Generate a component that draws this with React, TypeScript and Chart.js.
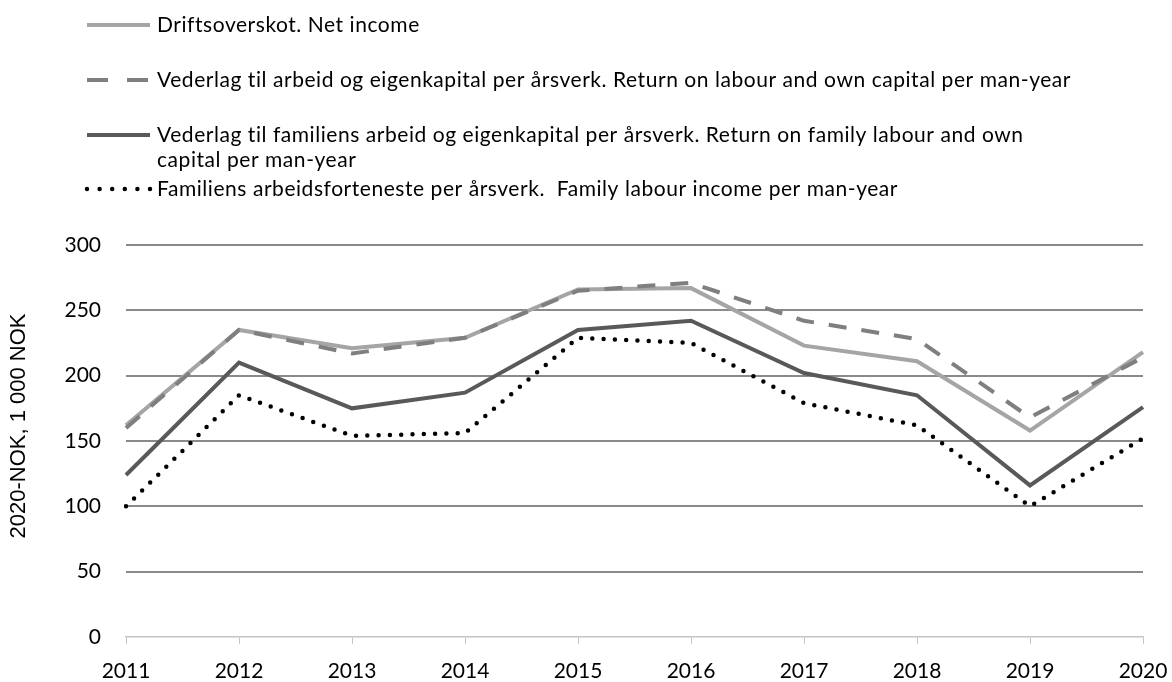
import React, { useEffect, useRef } from "react";
import { Chart, registerables } from "chart.js";

Chart.register(...registerables);

const years = ["2011", "2012", "2013", "2014", "2015", "2016", "2017", "2018", "2019", "2020"];
const netIncome = [162, 235, 221, 229, 266, 267, 223, 211, 158, 218];
const returnLabourCapital = [160, 235, 217, 229, 265, 271, 242, 228, 168, 214];
const returnFamilyLabourCapital = [124, 210, 175, 187, 235, 242, 202, 185, 116, 176];
const familyLabourIncome = [100, 185, 154, 156, 229, 225, 179, 162, 100, 152];

const labelNetIncome = ["Driftsoverskot. Net income"];
const labelReturnLabour = [
  "Vederlag til arbeid og eigenkapital per årsverk. Return on labour and own capital per man-year",
];
const labelReturnFamily = [
  "Vederlag til familiens arbeid og eigenkapital per årsverk. Return on family labour and own",
  "capital per man-year",
];
const labelFamilyIncome = ["Familiens arbeidsforteneste per årsverk.  Family labour income per man-year"];

const yMin = 0;
const yMax = 300;
const yStep = 50;
const yTitle = "2020-NOK, 1 000 NOK";

const legendRowsY = [25, 80, 135, 189];
const legendDash = [[], [21, 19], [], [0, 12.6]];

const legendPlugin = {
  id: "customLegend",
  afterDraw(chart: any) {
    const ctx = chart.ctx;
    ctx.save();
    ctx.font = "21px Lato";
    try {
      (ctx as any).letterSpacing = "0.55px";
    } catch (e) {}
    ctx.textBaseline = "middle";
    ctx.fillStyle = "#000";
    chart.data.datasets.forEach((ds: any, i: number) => {
      const y = legendRowsY[i];
      ctx.beginPath();
      ctx.strokeStyle = ds.borderColor;
      ctx.lineWidth = ds.borderWidth;
      ctx.lineCap = ds.borderCapStyle || "butt";
      ctx.setLineDash(legendDash[i]);
      ctx.moveTo(87, y);
      ctx.lineTo(ds.borderCapStyle === "round" ? 151 : 150, y);
      ctx.stroke();
      ctx.setLineDash([]);
      const lines: string[] = ds.legendLines;
      lines.forEach((t, k) => {
        ctx.fillText(t, 157, y + k * 25);
      });
    });
    (ctx as any).letterSpacing = "0px";
    ctx.restore();

    // y-axis title
    ctx.save();
    ctx.font = "22px 'Liberation Sans'";
    ctx.fillStyle = "#000";
    ctx.textAlign = "center";
    ctx.textBaseline = "middle";
    ctx.translate(18.5, 426);
    ctx.rotate(-Math.PI / 2);
    ctx.fillText(yTitle, 0, 0);
    ctx.restore();
  },
};

export default function App() {
  const ref = useRef<HTMLCanvasElement | null>(null);

  useEffect(() => {
    if (!ref.current) return;
    const tickFont = { family: "Lato", size: 21 };
    const chart = new Chart(ref.current, {
      type: "line",
      data: {
        labels: years,
        datasets: [
          {
            label: labelNetIncome.join(" "),
            legendLines: labelNetIncome,
            data: netIncome,
            borderColor: "#a5a5a5",
            borderWidth: 4,
            pointRadius: 0,
            tension: 0,
            fill: false,
            order: 1,
          } as any,
          {
            label: labelReturnLabour.join(" "),
            legendLines: labelReturnLabour,
            data: returnLabourCapital,
            borderColor: "#7f7f7f",
            borderWidth: 4,
            borderDash: [18, 15],
            pointRadius: 0,
            tension: 0,
            fill: false,
            order: 0,
          },
          {
            label: labelReturnFamily.join(" "),
            legendLines: labelReturnFamily,
            data: returnFamilyLabourCapital,
            borderColor: "#595959",
            borderWidth: 4,
            pointRadius: 0,
            tension: 0,
            fill: false,
            order: 1,
          },
          {
            label: labelFamilyIncome.join(" "),
            legendLines: labelFamilyIncome,
            data: familyLabourIncome,
            borderColor: "#000000",
            borderWidth: 4.5,
            borderDash: [0, 11.3],
            borderCapStyle: "round",
            pointRadius: 0,
            tension: 0,
            fill: false,
            order: 1,
          },
        ],
      },
      options: {
        animation: false,
        responsive: false,
        layout: { padding: { top: 245, right: 29, left: 0, bottom: 0 } },
        plugins: {
          legend: { display: false },
          tooltip: { enabled: false },
        },
        scales: {
          x: {
            offset: false,
            grid: {
              display: true,
              drawOnChartArea: false,
              drawTicks: true,
              tickLength: 7,
              color: "#c4c4c4",
              lineWidth: 1,
            },
            border: { display: true, color: "#c4c4c4", width: 1.5 },
            ticks: { font: tickFont, color: "#000", padding: 15, maxRotation: 0, autoSkip: false },
            afterFit: (s: any) => {
              s.height = 45;
              s.paddingLeft = 0;
              s.paddingRight = 0;
            },
          },
          y: {
            min: yMin,
            max: yMax,
            ticks: { stepSize: yStep, padding: 25, font: tickFont, color: "#000" },
            grid: {
              color: (c: any) => (c.tick && c.tick.value === 0 ? "rgba(0,0,0,0)" : "#8a8a8a"),
              lineWidth: 2,
              drawTicks: false,
            },
            border: { display: false },
            title: { display: false, text: yTitle },
            afterFit: (s: any) => {
              s.width = 126;
              s.paddingTop = 0;
              s.paddingBottom = 0;
            },
          },
        },
      },
      plugins: [legendPlugin],
    });
    return () => chart.destroy();
  }, []);

  return (
    <div style={{ position: "absolute", left: 0, top: 0, width: 1172, height: 682, background: "#fff" }}>
      <canvas ref={ref} width={1172} height={682} style={{ display: "block" }} />
    </div>
  );
}
